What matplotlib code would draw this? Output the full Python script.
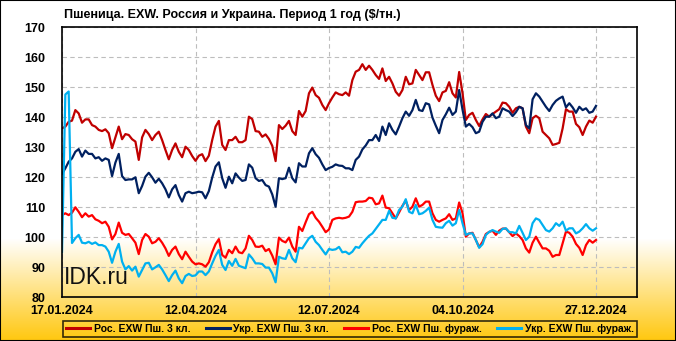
import numpy as np
import matplotlib
matplotlib.use("Agg")
import matplotlib.pyplot as plt
from matplotlib.patches import Rectangle

title = "Пшеница. EXW. Россия и Украина. Период 1 год ($/тн.)"
tick_labels = ["17.01.2024", "12.04.2024", "12.07.2024", "04.10.2024", "27.12.2024"]
series_names = ["Рос. EXW Пш. 3 кл.", "Укр. EXW Пш. 3 кл.", "Рос. EXW Пш. фураж.", "Укр. EXW Пш. фураж."]

ru_3 = [136.2, 136.8, 138.4, 138.8, 142.3, 141.2, 138.1, 139.2, 139.2, 137.3, 136.8, 135.7, 135.3, 135.9, 134.6, 129.6, 133.2, 136.8, 132.6, 134.3, 134.0, 132.6, 131.8, 125.7, 133.2, 135.7, 134.3, 132.3, 134.0, 135.1, 132.3, 129.0, 125.9, 129.0, 131.2, 128.4, 126.6, 130.1, 129.0, 127.0, 125.4,
        127.1, 127.6, 125.3, 127.1, 132.3, 136.8, 138.7, 130.7, 129.0, 132.3, 132.3, 133.4, 131.6, 131.6, 132.3, 140.1, 139.3, 135.3, 135.1, 133.4, 134.2, 132.7, 130.4, 125.3, 137.3, 136.0, 137.1, 138.7, 135.3, 134.0, 142.0, 140.1, 142.0, 147.9, 149.8, 147.3, 146.4, 144.0, 142.3, 144.6,
        146.5, 148.2, 147.6, 147.3, 148.2, 147.1, 152.3, 155.1, 155.7, 157.6, 155.7, 157.1, 155.7, 154.0, 152.7, 156.2, 152.0, 153.4, 151.2, 148.4, 147.1, 149.0, 153.4, 150.9, 151.2, 155.7, 154.0, 152.3, 154.9, 154.9, 150.7, 147.1, 145.3, 148.2, 148.7, 151.6, 147.9, 146.5, 155.0, 148.0,
        139.0, 140.7, 141.4, 139.0, 137.0, 139.2, 141.0, 140.1, 141.0, 141.8, 142.6, 144.8, 144.6, 143.4, 141.4, 142.9, 143.4, 142.9, 136.8, 134.6, 139.6, 140.4, 139.6, 135.1, 134.0, 132.9, 130.7, 131.0, 131.4, 136.2, 142.6, 141.8, 141.8, 137.7, 136.6, 134.0, 136.8, 138.8, 138.1, 140.1]

ua_3 = [121.0, 122.9, 125.1, 126.2, 128.4, 129.3, 126.8, 128.8, 127.7, 127.7, 126.2, 126.6, 125.4, 126.2, 125.7, 120.3, 124.8, 127.7, 120.3, 119.0, 119.2, 119.2, 119.9, 114.6, 117.0, 120.1, 121.4, 119.9, 118.1, 119.4, 117.9, 115.9, 113.2, 115.9, 117.3, 114.0, 111.8, 114.6, 115.1, 114.6, 114.8,
        115.1, 114.9, 112.9, 115.3, 119.8, 123.5, 124.9, 119.6, 116.4, 120.1, 117.9, 121.2, 119.8, 118.7, 119.0, 124.2, 123.1, 119.6, 118.7, 119.0, 117.3, 116.8, 114.2, 110.1, 119.6, 119.3, 119.6, 123.1, 119.6, 118.2, 124.6, 123.5, 123.5, 127.9, 129.6, 127.6, 126.4, 124.2, 122.3, 123.0,
        123.4, 124.2, 123.8, 123.7, 122.9, 122.9, 122.3, 125.7, 126.8, 129.2, 130.5, 132.3, 132.3, 134.0, 132.0, 136.8, 134.0, 137.9, 135.7, 134.2, 136.8, 139.6, 141.8, 140.4, 142.3, 145.7, 142.3, 142.0, 144.6, 144.2, 139.8, 137.1, 134.6, 139.0, 140.9, 143.1, 140.7, 141.8, 149.0, 142.5,
        136.8, 137.7, 136.6, 134.6, 135.1, 138.4, 140.1, 140.1, 141.2, 139.6, 140.1, 142.9, 142.3, 141.8, 140.3, 141.6, 143.4, 142.9, 137.3, 136.2, 145.9, 147.9, 146.8, 145.1, 143.4, 142.0, 144.0, 145.4, 146.2, 146.8, 143.2, 144.6, 143.2, 141.4, 143.4, 142.3, 142.9, 141.4, 141.8, 143.7]

ru_feed = [107.3, 107.9, 107.3, 108.1, 109.9, 108.4, 106.6, 107.9, 106.8, 107.3, 105.9, 105.4, 104.6, 105.1, 103.4, 99.2, 101.0, 104.8, 101.4, 100.7, 101.0, 99.6, 98.1, 94.3, 99.0, 101.0, 100.1, 97.9, 98.4, 99.6, 98.1, 96.2, 93.7, 95.7, 96.8, 94.3, 92.6, 95.1, 93.4, 91.8, 90.9,
           91.2, 90.9, 90.1, 91.6, 94.9, 97.6, 99.3, 94.0, 93.1, 95.7, 94.6, 96.8, 94.9, 94.6, 96.2, 100.4, 99.0, 96.8, 96.7, 97.1, 95.3, 96.0, 93.8, 90.9, 99.8, 98.7, 98.2, 99.8, 96.8, 95.1, 103.4, 102.0, 104.9, 107.6, 108.4, 106.4, 105.1, 103.4, 101.6, 102.5,
           105.7, 106.2, 106.4, 106.2, 106.4, 106.8, 108.4, 111.6, 111.8, 111.8, 112.0, 113.1, 112.9, 110.9, 111.2, 113.8, 109.8, 109.6, 107.9, 106.2, 108.2, 110.4, 112.1, 109.0, 110.1, 112.9, 110.1, 110.7, 111.8, 111.8, 107.9, 105.7, 105.1, 105.7, 106.2, 107.6, 105.7, 106.2, 111.5, 108.0,
           100.1, 101.2, 101.4, 99.0, 96.6, 98.4, 101.0, 101.7, 102.1, 100.7, 102.1, 102.8, 102.8, 101.6, 100.3, 101.2, 100.3, 99.0, 96.2, 94.8, 98.1, 100.1, 98.1, 96.2, 96.2, 95.4, 93.4, 94.0, 94.0, 97.9, 101.8, 101.4, 100.1, 97.7, 96.4, 94.0, 97.3, 99.0, 98.1, 99.0]

ua_feed = [95.0, 147.5, 148.5, 98.0, 99.6, 100.7, 98.1, 97.9, 98.4, 97.7, 98.2, 97.3, 97.3, 96.8, 95.1, 91.4, 95.1, 97.7, 91.8, 89.2, 90.3, 88.8, 90.1, 86.8, 89.0, 91.2, 91.4, 89.2, 89.9, 90.7, 89.2, 87.3, 85.3, 87.3, 88.8, 86.2, 84.6, 87.0, 87.7, 87.0, 87.2,
           88.5, 88.5, 87.3, 88.5, 91.2, 93.7, 95.7, 90.7, 89.0, 92.0, 90.4, 92.7, 90.4, 90.0, 89.6, 94.2, 92.9, 91.2, 91.2, 91.0, 89.8, 89.8, 87.9, 84.9, 93.4, 92.9, 92.7, 95.7, 92.9, 91.6, 96.4, 96.2, 97.9, 99.6, 100.4, 98.4, 97.3, 95.7, 94.2, 96.0,
           95.7, 95.9, 96.7, 94.9, 95.1, 94.3, 95.1, 96.7, 96.4, 97.9, 99.2, 100.4, 101.2, 102.7, 104.2, 105.7, 105.7, 108.7, 106.4, 106.2, 109.0, 110.1, 112.6, 108.4, 107.9, 110.7, 107.6, 107.9, 108.7, 109.8, 105.7, 103.4, 103.2, 103.1, 104.6, 105.4, 103.8, 104.6, 109.0, 104.6,
           100.7, 101.2, 101.2, 99.0, 96.4, 97.6, 100.7, 101.7, 102.3, 101.8, 101.4, 102.7, 102.9, 101.6, 101.6, 101.2, 103.7, 101.4, 99.0, 100.1, 104.6, 106.2, 105.7, 104.0, 102.3, 101.8, 102.9, 104.6, 103.7, 105.1, 102.1, 102.9, 102.9, 101.2, 101.8, 102.9, 104.3, 102.9, 102.1, 102.9]

colors = ["#C00000", "#002060", "#FF0000", "#00B0F0"]

W, H = 676, 341
fig = plt.figure(figsize=(W / 100, H / 100), dpi=100)

# background gradient
bg = fig.add_axes([0, 0, 1, 1], zorder=-10)
bg.set_axis_off()
ys = np.arange(H)
t = np.clip((ys - 238) / (H - 238), 0, 1)
top = np.array([1.0, 1.0, 1.0])
bot = np.array([1.0, 0.78, 0.05])
grad = top[None, :] * (1 - t[:, None]) + bot[None, :] * t[:, None]
img = np.repeat(grad[:, None, :], W, axis=1)
bg.imshow(img, aspect="auto", extent=[0, 1, 0, 1], origin="upper")
bg.set_xlim(0, 1)
bg.set_ylim(0, 1)

ax = fig.add_axes([62 / W, 1 - 297 / H, (637 - 62) / W, (297 - 27) / H])
ax.set_facecolor("none")

x = np.arange(len(ru_3))
for ser, c, name in zip([ru_3, ua_3, ru_feed, ua_feed], colors, series_names):
    ax.plot(x, ser, color=c, lw=1.6, label=name, solid_joinstyle="round")

n_int = 40
ax.set_xlim(0, (637 - 62) / (133.5 / n_int))
ax.set_ylim(80, 170)
ax.set_yticks(np.arange(80, 171, 10))
ax.set_xticks(np.arange(0, 161, n_int))
ax.set_xticklabels(tick_labels)

for lbl in ax.get_xticklabels() + ax.get_yticklabels():
    lbl.set_fontfamily("Liberation Sans")
    lbl.set_fontweight("bold")
    lbl.set_fontsize(9)
ax.tick_params(axis="both", length=0)
ax.tick_params(axis="y", pad=12)
ax.tick_params(axis="x", pad=6)
ax.grid(True, color="#BDBDBD", linestyle=(0, (4, 3)), lw=0.8)
for s in ax.spines.values():
    s.set_color("black")
    s.set_linewidth(1.2)

ax.text(0.004, 0.048, "IDK.ru", transform=ax.transAxes, family="Liberation Sans",
        fontsize=16.5, color="#111111", va="baseline", ha="left")

fig.text(64 / W, 1 - 15 / H, title, family="Liberation Sans", weight="bold",
         fontsize=9, va="center", ha="left")

leg = fig.legend(loc="lower left", bbox_to_anchor=(63 / W, 1 - 337 / H, 574 / W, 21 / H),
                 mode="expand", ncol=4, frameon=True, fancybox=False, handlelength=2.3,
                 handletextpad=0.35, columnspacing=0.5, borderpad=0.3, borderaxespad=0,
                 prop=dict(family="Liberation Sans", weight="bold", size=7.5))
leg.get_frame().set_edgecolor("black")
leg.get_frame().set_linewidth(1.2)
leg.get_frame().set_facecolor("none")
for h in leg.get_lines():
    h.set_linewidth(2.2)

fig.patches.append(Rectangle((0, 0), 1, 1, transform=fig.transFigure, fill=False,
                             edgecolor="black", lw=1.5))

fig.savefig("out.png", dpi=100)
